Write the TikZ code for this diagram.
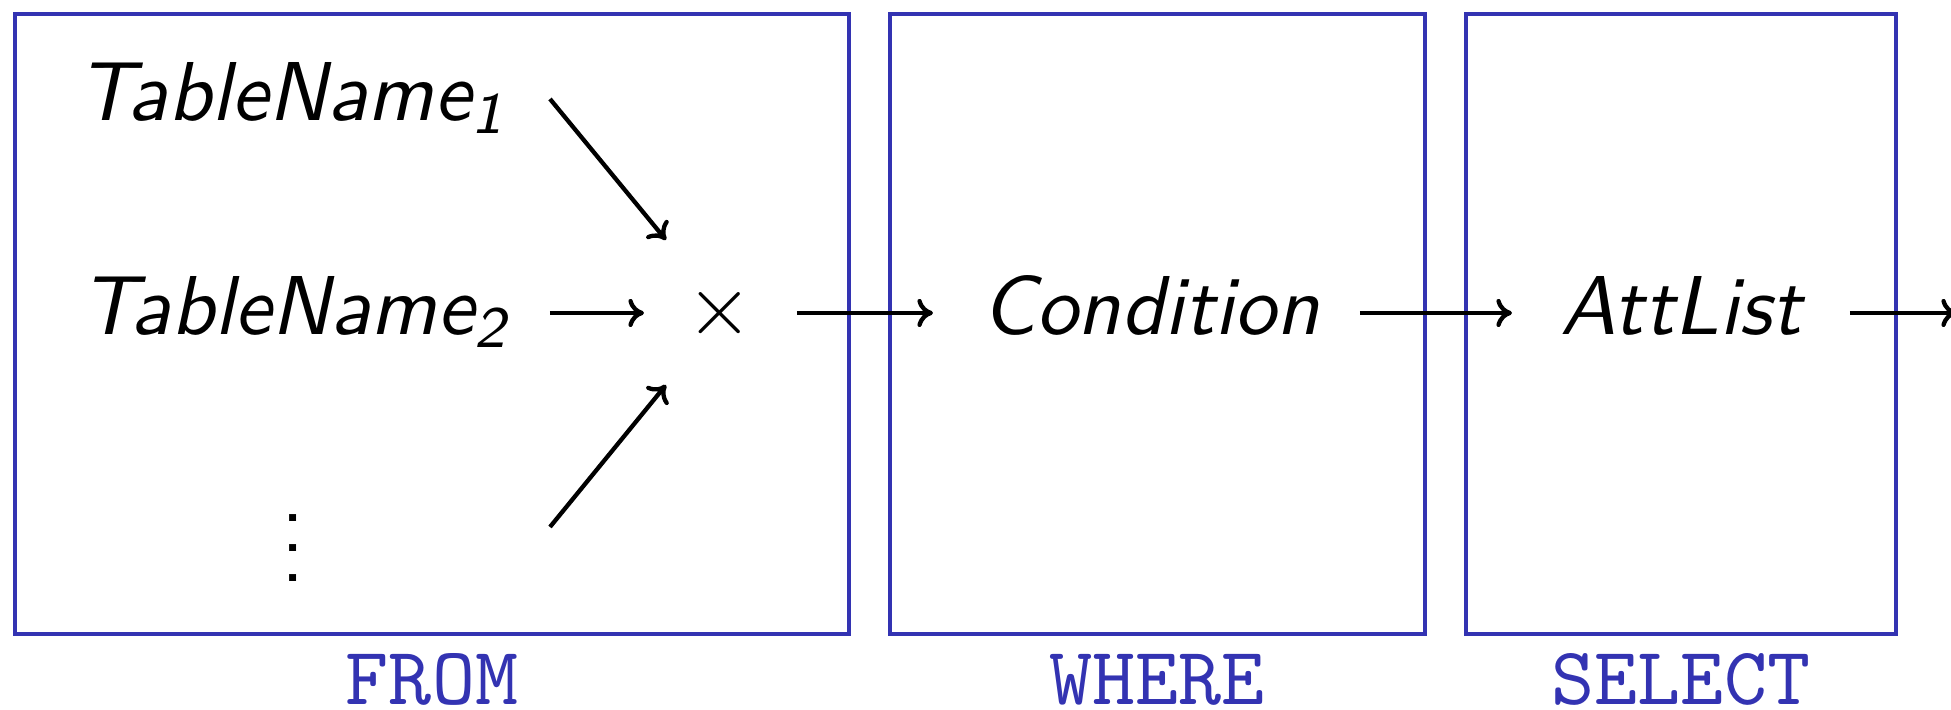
\documentclass[tikz,border=0pt]{standalone}
\usetikzlibrary{arrows.meta,fit}
\definecolor{struct}{rgb}{0.2,0.2,0.7}
\begin{document}
\begin{tikzpicture}[x=0.128pt,y=-0.128pt,
  every node/.style={inner sep=0pt, font=\fontsize{10.7}{12}\selectfont},
  txt/.style={font=\fontsize{10.7}{12}\selectfont\sffamily\itshape, anchor=base},
  dotst/.style={font=\fontsize{10.7}{12}\selectfont\sffamily, anchor=base},
  lbl/.style={font=\fontsize{10.5}{12}\selectfont\ttfamily, text=struct, anchor=base},
  boxst/.style={draw=struct, line width=0.51pt, inner sep=0pt},
  arr/.style={line width=0.55pt, -{Computer Modern Rightarrow[length=2pt,width=3.6pt]}}]
\useasboundingbox (0,0) rectangle (1951,710);
% boxes
\node[boxst, fit={(15,14) (849,634)}] (from) {};
\node[boxst, fit={(890,14) (1425,634)}] (where) {};
\node[boxst, fit={(1466,14) (1896,634)}] (select) {};
% labels
\node[lbl] (lfrom) at (432,705) {FROM};
\node[lbl] (lwhere) at (1157,705) {WHERE};
\node[lbl] (lselect) at (1681,705) {SELECT};
% texts
\node[txt] (t1) at (292,121) {TableName\textsubscript{1}};
\node[txt] (t2) at (295,335) {TableName\textsubscript{2}};
\node[dotst] (d1) at (293,522) {.};
\node[dotst] (d2) at (293,552) {.};
\node[dotst] (d3) at (293,582) {.};
\node (x) at (720,313) {$\times$};
\node[txt] (cond) at (1151,335) {Condition};
\node[txt] (att) at (1681,335) {AttList};
% arrow endpoints
\coordinate (a1s) at (550,99);   \coordinate (a1e) at (666,240);
\coordinate (a2s) at (550,313);  \coordinate (a2e) at (644,313);
\coordinate (a3s) at (550,527);  \coordinate (a3e) at (666,385);
\coordinate (a4s) at (797,313);  \coordinate (a4e) at (933,313);
\coordinate (a5s) at (1360,313); \coordinate (a5e) at (1512,313);
\coordinate (a6s) at (1850,313); \coordinate (a6e) at (1957,313);
\draw[arr] (a1s) -- (a1e);
\draw[arr] (a2s) -- (a2e);
\draw[arr] (a3s) -- (a3e);
\draw[arr] (a4s) -- (a4e);
\draw[arr] (a5s) -- (a5e);
\begin{scope}
\clip (0,0) rectangle (1951,710);
\draw[arr] (a6s) -- (a6e);
\end{scope}
\end{tikzpicture}
\end{document}
